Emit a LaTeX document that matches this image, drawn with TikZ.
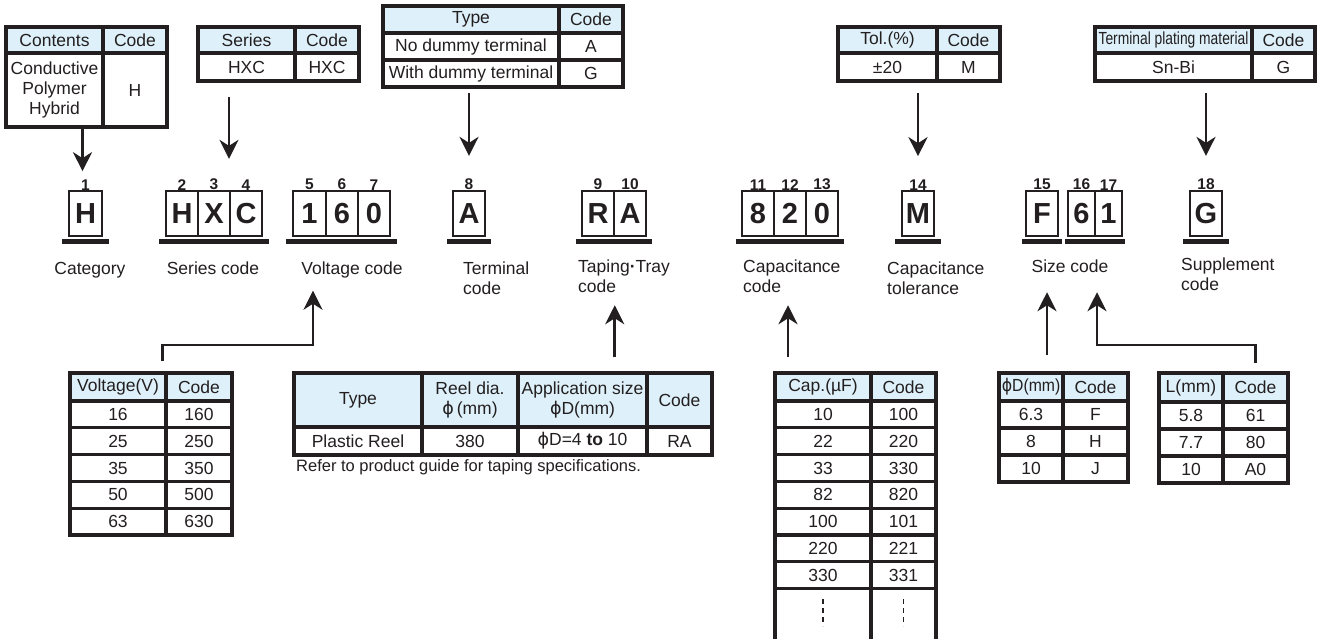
\documentclass[tikz,border=0pt]{standalone}
\usepackage{fontspec}
\usepackage{graphicx}
\setmainfont{Liberation Sans}
\newfontfamily\phifont{DejaVu Sans}
\usetikzlibrary{arrows.meta}

\definecolor{ink}{RGB}{35,31,32}
\definecolor{headblue}{RGB}{222,241,250}

\newcommand\tabfont{\fontsize{17.5}{20}\selectfont}
\newcommand\notefont{\fontsize{16.5}{19}\selectfont}
\newcommand\boxfont{\fontsize{29}{30}\selectfont\bfseries}
\newcommand\numfont{\fontsize{15.5}{17}\selectfont\bfseries}
\newcommand\phisym{{\phifont ϕ}}
% table cell from (x1,y1) to (x2,y2)
\newcommand\cellat[7]{\node[#6, minimum width={(#4)-(#2)}, minimum height={(#5)-(#3)}] (#1) at ({((#2)+(#4))/2},{((#3)+(#5))/2}) {#7};}

\begin{document}
\begin{tikzpicture}[
    x=1pt, y=-1pt,
    every node/.append style={text=ink},
    tcell/.style={draw=ink, line width=3.2pt, inner sep=1pt, align=center, font=\tabfont},
    thead/.style={tcell, fill=headblue},
    codebox/.style={draw=ink, line width=1.5pt, minimum height=45, inner sep=0pt, font=\boxfont, label distance=9},
    posnum/.style={font=\numfont, inner sep=0pt},
    lbl/.style={font=\tabfont, align=left, inner sep=0pt},
    uline/.style={draw=ink, line width=5pt},
    arr/.style={draw=ink, line width=2.6pt, -{Stealth[length=19pt, width=19pt, inset=6pt]}},
    dotline/.style={draw=ink, line width=1.2pt, dash pattern=on 5pt off 4pt}
]
   \fill[white] (0,0) rectangle (1320,639);
   \useasboundingbox (0,0) rectangle (1320,639);

   % Code boxes with digit positions
   \foreach \n/\x/\w/\c in {1/85.5/33/H, 2/182/32/H, 3/214/32/X, 4/246/32/C,
       5/309.5/33/1, 6/342/32/6, 7/374/32/0, 8/469/32/A, 9/598/32/R, 10/630/32/A,
       11/758/32/8, 12/790/32/2, 13/822/32/0, 14/918/32/M, 15/1042/32/F,
       16/1081.5/27/6, 17/1108.5/27/1, 18/1206/32/G}
     \node[codebox, minimum width=\w, label={[posnum, name=n\n]above:\n}] (k\n) at (\x,213.5) {\c};

   \foreach \a/\b/\o in {1/1/6, 2/4/6, 5/7/6, 8/8/5, 9/10/5, 11/13/5, 14/14/6, 15/15/3, 16/17/2, 18/18/6}
     \draw[uline] ([shift={(-\o,5)}]k\a.south west) -- ([shift={(\o,5)}]k\b.south east);

   % Field names
   \node[lbl, anchor=north] (lCat) at (90,262) {Category};
   \node[lbl, anchor=north] (lSer) at (213,262) {Series code};
   \node[lbl, anchor=north] (lVol) at (352,262) {Voltage code};
   \node[lbl, anchor=north west] (lTer) at (463,262) {Terminal\\code};
   \node[lbl, anchor=north west] (lTap) at (578,260) {Taping{\bfseries·}Tray\\code};
   \node[lbl, anchor=north west] (lCap) at (743,260) {Capacitance\\code};
   \node[lbl, anchor=north west] (lTol) at (887,262) {Capacitance\\tolerance};
   \node[lbl, anchor=north] (lSiz) at (1070,260) {Size code};
   \node[lbl, anchor=north west] (lSup) at (1181,258) {Supplement\\code};

   % Contents
   \cellat{cnH}{6}{27}{103}{53}{thead}{Contents}
   \cellat{cdH}{103}{27}{167}{53}{thead}{Code}
   \cellat{cnA}{6}{53}{103}{127}{tcell}{Conductive\\Polymer\\Hybrid}
   \cellat{cdA}{103}{53}{167}{127}{tcell}{H}

   % Series
   \cellat{srH}{198}{27}{295}{53}{thead}{Series}
   \cellat{scH}{295}{27}{359}{53}{thead}{Code}
   \cellat{srA}{198}{53}{295}{81}{tcell}{HXC}
   \cellat{scA}{295}{53}{359}{81}{tcell}{HXC}

   % Terminal type
   \cellat{tyH}{383}{6}{559}{33}{thead}{Type}
   \cellat{tcH}{559}{6}{623}{33}{thead}{Code}
   \cellat{tyA}{383}{33}{559}{60}{tcell}{No dummy terminal}
   \cellat{tcA}{559}{33}{623}{60}{tcell}{A}
   \cellat{tyB}{383}{60}{559}{87}{tcell}{With dummy terminal}
   \cellat{tcB}{559}{60}{623}{87}{tcell}{G}

   % Tolerance
   \cellat{tlH}{838}{27}{937}{53}{thead}{Tol.(\%)}
   \cellat{tlcH}{937}{27}{1000}{53}{thead}{Code}
   \cellat{tlA}{838}{53}{937}{81}{tcell}{±20}
   \cellat{tlcA}{937}{53}{1000}{81}{tcell}{M}

   % Plating
   \cellat{plH}{1095}{27}{1252}{53}{thead}{\scalebox{0.79}[1]{Terminal plating material}}
   \cellat{plcH}{1252}{27}{1315}{53}{thead}{Code}
   \cellat{plA}{1095}{53}{1252}{81}{tcell}{Sn-Bi}
   \cellat{plcA}{1252}{53}{1315}{81}{tcell}{G}

   % Voltage
   \cellat{vH1}{70}{373}{166}{401}{thead}{Voltage(V)}
   \cellat{vH2}{166}{373}{232}{401}{thead}{Code}
   \foreach \v/\c [count=\i] in {16/160, 25/250, 35/350, 50/500, 63/630}
     {\cellat{vV\i}{70}{374.2+26.8*\i}{166}{401+26.8*\i}{tcell}{\v}
      \cellat{vC\i}{166}{374.2+26.8*\i}{232}{401+26.8*\i}{tcell}{\c}}

   % Taping
   \cellat{tpA}{294}{373}{422}{427}{thead}{Type}
   \cellat{tpB}{422}{373}{518}{427}{thead}{Reel dia.\\\phisym\,(mm)}
   \cellat{tpC}{518}{373}{647}{427}{thead}{Application size\\\phisym D(mm)}
   \cellat{tpD}{647}{373}{712}{427}{thead}{Code}
   \cellat{tpA1}{294}{427}{422}{455}{tcell}{Plastic Reel}
   \cellat{tpB1}{422}{427}{518}{455}{tcell}{380}
   \cellat{tpC1}{518}{427}{647}{455}{tcell}{\phisym D=4 \textbf{to} 10}
   \cellat{tpD1}{647}{427}{712}{455}{tcell}{RA}
   \node[lbl, font=\notefont, anchor=west] (tpNote) at (296,467) {Refer to product guide for taping specifications.};

   % Capacitance, last row runs off the page
   \cellat{cpH1}{775}{373}{871}{401}{thead}{Cap.(µF)}
   \cellat{cpH2}{871}{373}{936}{401}{thead}{Code}
   \foreach \v/\c [count=\i] in {10/100, 22/220, 33/330, 82/820, 100/101, 220/221, 330/331}
     {\cellat{cpV\i}{775}{374.2+26.8*\i}{871}{401+26.8*\i}{tcell}{\v}
      \cellat{cpC\i}{871}{374.2+26.8*\i}{936}{401+26.8*\i}{tcell}{\c}}
   \cellat{cpV8}{775}{588.6}{871}{660}{tcell}{}
   \cellat{cpC8}{871}{588.6}{936}{660}{tcell}{}
   \draw[dotline] ([yshift=-12]cpV8.north) -- ++(0,27);
   \draw[dotline] ([yshift=-12]cpC8.north) -- ++(0,27);

   % Diameter
   \cellat{dH1}{999}{373}{1063}{401}{thead}{\scalebox{0.9}[1]{\phisym D(mm)}}
   \cellat{dH2}{1063}{373}{1128}{401}{thead}{Code}
   \foreach \v/\c [count=\i] in {6.3/F, 8/H, 10/J}
     {\cellat{dV\i}{999}{374+27*\i}{1063}{401+27*\i}{tcell}{\v}
      \cellat{dC\i}{1063}{374+27*\i}{1128}{401+27*\i}{tcell}{\c}}

   % Length
   \cellat{lH1}{1159}{373}{1223}{402}{thead}{L(mm)}
   \cellat{lH2}{1223}{373}{1288}{402}{thead}{Code}
   \foreach \v/\c [count=\i] in {5.8/61, 7.7/80, 10/A0}
     {\cellat{lV\i}{1159}{375+27*\i}{1223}{402+27*\i}{tcell}{\v}
      \cellat{lC\i}{1223}{375+27*\i}{1288}{402+27*\i}{tcell}{\c}}

   % Arrows from the tables above
   \coordinate (serX) at (229,0);
   \draw[arr, shorten >=8] ([xshift=-3]cnA.south -| k1) -- ([xshift=-3]n1.north);
   \draw[arr, shorten <=14.5, shorten >=20] (srA.south -| serX) -- (n3.north -| serX);
   \draw[arr, shorten <=4.5, shorten >=23] (tyB.south -| k8) -- (n8.north);
   \draw[arr, shorten <=10.5, shorten >=23] (tlA.south -| k14) -- (n14.north);
   \draw[arr, shorten <=10.5, shorten >=23] (plA.south -| k18) -- (n18.north);

   % Arrows from the tables below
   \coordinate (vBend) at (313,345);
   \coordinate (lBend) at (1097,345);
   \draw[arr, shorten <=10, shorten >=12] ([xshift=-5]vH1.north east) |- (vBend) -- (vBend |- lVol.south);
   \draw[arr, shorten <=14, shorten >=12] (tpC.north -| k9.east) -- (k9.east |- lTap.south);
   \draw[arr, shorten <=14, shorten >=12] ([xshift=-2]cpH1.north -| k12) -- ([xshift=-2]k12 |- lCap.south);
   \draw[arr, shorten <=16, shorten >=19] ([xshift=5]dH1.north -| k15) -- ([xshift=5]k15 |- lSiz.south);
   \draw[arr, shorten <=8.5, shorten >=19] (lH2.north) |- (lBend) -- (lBend |- lSiz.south);
\end{tikzpicture}
\end{document}
